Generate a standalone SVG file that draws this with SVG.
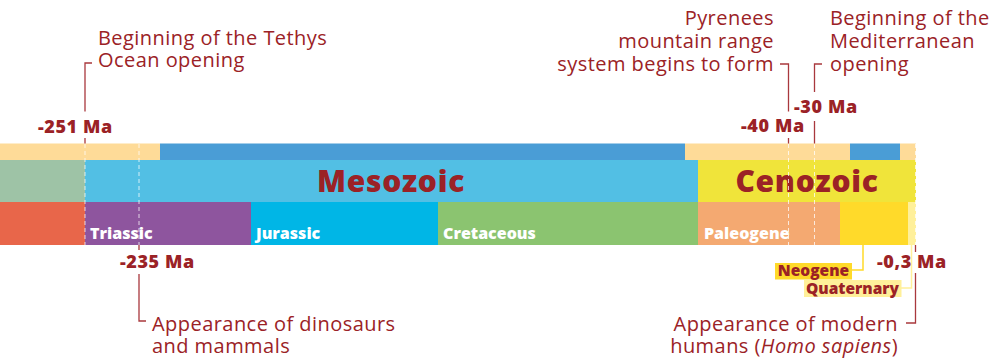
<svg xmlns="http://www.w3.org/2000/svg" width="999" height="359" viewBox="0 0 999 359">
<style>
.note{font-family:"Open Sans",sans-serif;font-size:20px;fill:#9B2226;letter-spacing:0.45px}
.ma{font-family:"Open Sans",sans-serif;font-weight:800;font-size:18px;fill:#9B2226;letter-spacing:0.6px}
.era{font-family:"Open Sans",sans-serif;font-weight:800;font-size:30px;fill:#9B2226;letter-spacing:0.7px}
.per{font-family:"Open Sans",sans-serif;font-weight:800;font-size:16px;fill:#fff}
.tag{font-family:"Open Sans",sans-serif;font-weight:800;font-size:15.5px;fill:#9B2226}
.lead{fill:none;stroke:#A9383D;stroke-width:1.3}
.dash{fill:none;stroke:#fff;stroke-opacity:0.75;stroke-width:1;stroke-dasharray:4 3}
</style>
<rect width="999" height="359" fill="#fff"/>
<g id="bands">
<rect x="0" y="143.5" width="160" height="16.5" fill="#FEDB98"/>
<rect x="160" y="143.5" width="525" height="16.5" fill="#4A9DD6"/>
<rect x="685" y="143.5" width="165" height="16.5" fill="#FEDB98"/>
<rect x="850" y="143.5" width="50" height="16.5" fill="#4A9DD6"/>
<rect x="900" y="143.5" width="16" height="16.5" fill="#FEDB98"/>
<rect x="0" y="160" width="85" height="42" fill="#9EC3A6"/>
<rect x="85" y="160" width="613" height="42" fill="#52BFE4"/>
<rect x="698" y="160" width="218" height="42" fill="#F0E43A"/>
<rect x="0" y="202" width="85" height="43" fill="#E8664A"/>
<rect x="85" y="202" width="166" height="43" fill="#8E559E"/>
<rect x="251" y="202" width="187" height="43" fill="#00B6E6"/>
<rect x="438" y="202" width="260" height="43" fill="#8BC470"/>
<rect x="698" y="202" width="142" height="43" fill="#F4A971"/>
<rect x="840" y="202" width="68" height="43" fill="#FFDA2A"/>
<rect x="908" y="202" width="8" height="43" fill="#FFF09A"/>
</g>
<g id="eras">
<text class="era" x="391" y="192" text-anchor="middle">Mesozoic</text>
<text class="era" x="807" y="192" text-anchor="middle">Cenozoic</text>
</g>
<g id="periods">
<text class="per" x="90" y="239">Triassic</text>
<text class="per" x="256" y="239">Jurassic</text>
<text class="per" x="443" y="239">Cretaceous</text>
<text class="per" x="704" y="239">Paleogene</text>
</g>
<g id="connectors">
<path class="dash" d="M85 144V245M139 144V245M788.5 144V245M814.5 144V245M915.5 144V245"/>
<path class="lead" d="M92 63H85V111.5M85 138V143.5"/>
<path class="lead" d="M139 245V250M139 274V321H146"/>
<path class="lead" d="M780 64H788.5V111.5M788.5 138V143.5"/>
<path class="lead" d="M822 64H814.5V92M814.5 121V143.5"/>
<path class="lead" d="M915.5 245V252M915.5 273V323H906"/>
<path fill="none" stroke="#FFDA2A" stroke-width="1.5" d="M852 270H863V245"/>
<path fill="none" stroke="#FFF09A" stroke-width="1.5" d="M901 288H911.5V245"/>
</g>
<g id="n-tethys">
<text class="note" x="98" y="45">Beginning of the Tethys</text>
<text class="note" x="98" y="67">Ocean opening</text>
<text class="ma" x="38" y="133">-251 Ma</text>
</g>
<g id="n-dino">
<text class="ma" x="120" y="268">-235 Ma</text>
<text class="note" x="152" y="331">Appearance of dinosaurs</text>
<text class="note" x="152" y="353">and mammals</text>
</g>
<g id="n-pyrenees">
<text class="note" x="774" y="25" text-anchor="end">Pyrenees</text>
<text class="note" x="774" y="48" text-anchor="end">mountain range</text>
<text class="note" x="774" y="71" text-anchor="end">system begins to form</text>
<text class="ma" x="741" y="132">-40 Ma</text>
</g>
<g id="n-med">
<text class="note" x="830" y="25">Beginning of the</text>
<text class="note" x="830" y="48">Mediterranean</text>
<text class="note" x="830" y="71">opening</text>
<text class="ma" x="794" y="113">-30 Ma</text>
</g>
<g id="n-neogene">
<rect x="775" y="263" width="77" height="16.5" fill="#FFDA2A"/>
<text class="tag" x="813.5" y="276" text-anchor="middle">Neogene</text>
</g>
<g id="n-quaternary">
<rect x="804" y="280" width="97.5" height="17" fill="#FFF09A"/>
<text class="tag" x="852.5" y="293.5" text-anchor="middle">Quaternary</text>
</g>
<g id="n-human">
<text class="ma" x="877" y="268">-0,3 Ma</text>
<text class="note" x="898" y="331" text-anchor="end">Appearance of modern</text>
<text class="note" x="898" y="353" text-anchor="end">humans (<tspan font-style="italic">Homo sapiens</tspan>)</text>
</g>
</svg>
